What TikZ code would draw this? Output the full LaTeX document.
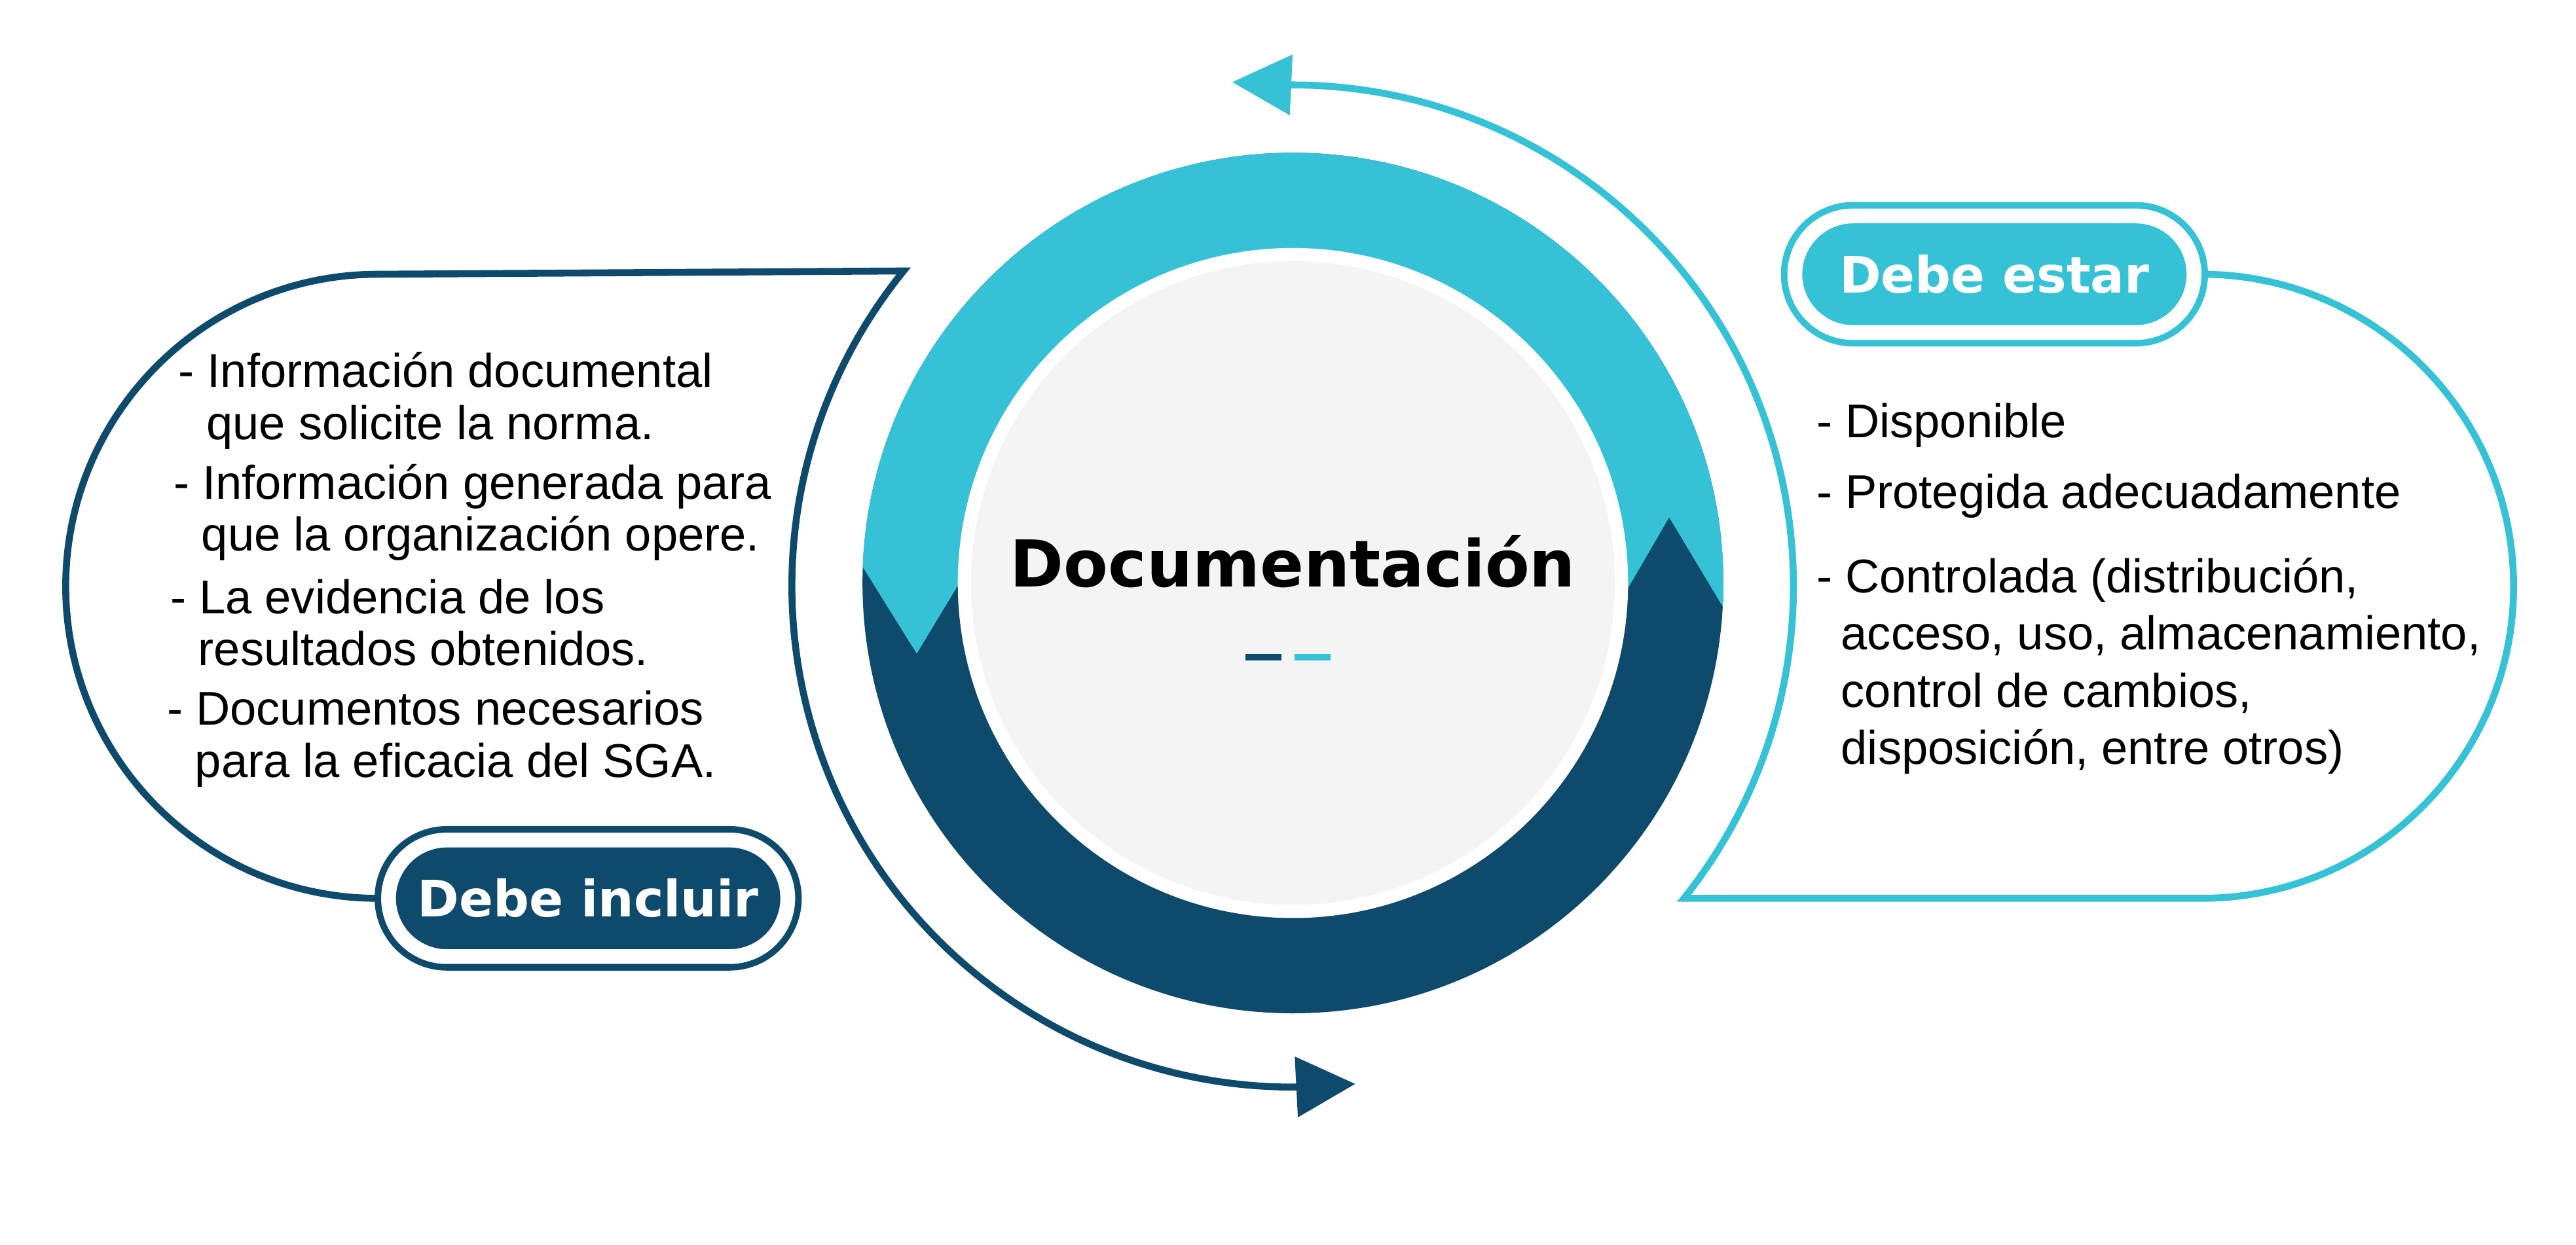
\documentclass[tikz,border=0pt]{standalone}
\usepackage{fontspec}
\setmainfont{Liberation Sans}
\newfontfamily\headfont{DejaVu Sans}
\usetikzlibrary{arrows.meta,shapes.misc}
\definecolor{navy}{HTML}{0D4A6B}
\definecolor{aqua}{HTML}{36C2D6}
\definecolor{pale}{HTML}{F4F4F4}
\tikzset{
  pill/.style={rounded rectangle, inner sep=0pt, minimum width=2.43cm, minimum height=0.71cm,
    fill=#1, draw=white, line width=0.9mm, preaction={draw=#1, line width=1.7mm},
    text=white, font=\headfont\bfseries\fontsize{8.7}{10}\selectfont},
  item/.style={anchor=north west, align=left, inner sep=0pt, font=\fontsize{8.2}{9.0}\selectfont},
  loop/.style={line width=1.2pt, -{Triangle[length=3.6mm,width=3.6mm]}}
}
\begin{document}
\begin{tikzpicture}[x=0.1mm,y=0.1mm]
\useasboundingbox (0,0) rectangle (1568,758);
% main ring
\fill[navy] (787,403) circle (262);
\begin{scope}
  \clip (787,403) circle (262);
  \fill[aqua] (500,413) -- (525,413) -- (558,360) -- (587,408) -- (987,393) -- (1016,443)
    -- (1049,388) -- (1070,388) -- (1070,700) -- (500,700) -- cycle;
\end{scope}
\node[circle, fill=pale, draw=white, line width=0.8mm, minimum size=4cm] (core) at (787,403) {};
\node[font=\headfont\bfseries\fontsize{11.2}{13}\selectfont] (title) at (787,416) {Documentación};
\fill[navy] (758,356) rectangle (780,360);
\fill[aqua] (788,356) rectangle (810,360);
% bubbles
\node[pill=navy] (incluir) at (358,211) {Debe incluir};
\node[pill=aqua] (estar) at (1214,591) {Debe estar};
\coordinate (lend) at (825,98);
\coordinate (rend) at (750,708);
\draw[navy, loop] (incluir.west) -- (230,211) arc (270:90:190) -- (550,593) arc (141:270:305) -- (lend);
\draw[aqua, loop] (estar.east) -- (1340,591) arc (90:-90:190) -- (1025,211) arc (-38.6:90:305) -- (rend);
% texts
\node[item] (i1) at (108,544) {- Información documental\\\hspace*{1.7mm}que solicite la norma.};
\node[item] (i2) at (105,476) {- Información generada para\\\hspace*{1.7mm}que la organización opere.};
\node[item] (i3) at (103,406) {- La evidencia de los\\\hspace*{1.7mm}resultados obtenidos.};
\node[item] (i4) at (101,338) {- Documentos necesarios\\\hspace*{1.7mm}para la eficacia del SGA.};
\node[item] (e1) at (1105,513) {- Disponible};
\node[item] (e2) at (1105,470) {- Protegida adecuadamente};
\node[item, font=\fontsize{8.2}{9.9}\selectfont] (e3) at (1105,419) {- Controlada (distribución,\\\hspace*{1.5mm}acceso, uso, almacenamiento,\\\hspace*{1.5mm}control de cambios,\\\hspace*{1.5mm}disposición, entre otros)};
\end{tikzpicture}
\end{document}
